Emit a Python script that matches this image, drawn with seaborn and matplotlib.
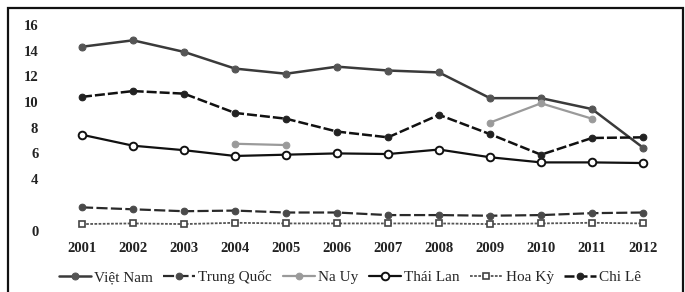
import numpy as np
import pandas as pd
import matplotlib
matplotlib.use("Agg")
import matplotlib.pyplot as plt
import seaborn as sns
from matplotlib.patches import Rectangle

years = [2001, 2002, 2003, 2004, 2005, 2006, 2007, 2008, 2009, 2010, 2011, 2012]

viet_nam = [14.3, 14.8, 13.9, 12.6, 12.2, 12.75, 12.45, 12.3, 10.3, 10.3, 9.45, 6.45]
trung_quoc = [1.8, 1.65, 1.5, 1.55, 1.4, 1.4, 1.2, 1.2, 1.15, 1.2, 1.35, 1.4]
# only parts of this series are readable in the scan
na_uy = [np.nan, np.nan, np.nan, 6.75, 6.65, np.nan, np.nan, np.nan, 8.4, 9.9, 8.7, np.nan]
thai_lan = [7.45, 6.6, 6.25, 5.8, 5.9, 6.0, 5.95, 6.3, 5.7, 5.3, 5.3, 5.25]
hoa_ky = [0.5, 0.55, 0.5, 0.6, 0.55, 0.55, 0.55, 0.55, 0.5, 0.55, 0.6, 0.55]
chi_le = [10.4, 10.85, 10.65, 9.15, 8.7, 7.7, 7.25, 9.0, 7.5, 5.9, 7.2, 7.25]

names = ["Việt Nam", "Trung Quốc", "Na Uy", "Thái Lan", "Hoa Kỳ", "Chi Lê"]
yticks = [0, 4, 6, 8, 10, 12, 14, 16]

sns.set_style("white")
plt.rcParams['font.family'] = ['Liberation Serif', 'DejaVu Serif']

fig = plt.figure(figsize=(6.85, 2.92), dpi=100)
ax = fig.add_axes([48/685, 1-235/292, (675-48)/685, (235-15)/292])

styles = {
    "Việt Nam": dict(color="#3a3a3a", marker="o", markersize=5, markerfacecolor="#555555",
                     markeredgecolor="#555555", linestyle="-", linewidth=1.8),
    "Trung Quốc": dict(color="#2a2a2a", marker="o", markersize=4.8, markerfacecolor="#4a4a4a",
                       markeredgecolor="#4a4a4a", linestyle=(0, (5, 1.5)), linewidth=1.6),
    "Na Uy": dict(color="#9a9a9a", marker="o", markersize=4.8, markerfacecolor="#9a9a9a",
                  markeredgecolor="#9a9a9a", linestyle="-", linewidth=1.6),
    "Thái Lan": dict(color="#111111", marker="o", markersize=5.5, markerfacecolor="white",
                     markeredgecolor="#111111", markeredgewidth=1.4, linestyle="-", linewidth=1.6),
    "Hoa Kỳ": dict(color="#555555", marker="s", markersize=3.8, markerfacecolor="white",
                   markeredgecolor="#444444", markeredgewidth=1.2, linestyle=(0, (1.5, 0.8)), linewidth=1.3),
    "Chi Lê": dict(color="#111111", marker="o", markersize=4.8, markerfacecolor="#222222",
                   markeredgecolor="#222222", linestyle=(0, (4, 1.2)), linewidth=1.8),
}

series = [viet_nam, trung_quoc, na_uy, thai_lan, hoa_ky, chi_le]
handles = []
for name, vals in zip(names, series):
    df = pd.DataFrame({"year": years, "value": vals})
    # split on gaps so missing years are not joined
    df["seg"] = df["value"].isna().cumsum()
    df = df.dropna()
    first = True
    for seg, part in df.groupby("seg"):
        sns.lineplot(data=part, x="year", y="value", ax=ax,
                     label=name if first else "_nolegend_", legend=False, **styles[name])
        first = False
    handles.append(ax.lines[-1])

ax.set_xlim(2001 - 34/51, 2012 + 32/51)
ax.set_ylim((230.5 - 235) / 12.85, (230.5 - 15) / 12.85)
ax.set_xticks(years)
ax.set_yticks(yticks)
ax.set_xlabel("")
ax.set_ylabel("")
for s in ax.spines.values():
    s.set_visible(False)
ax.tick_params(length=0, labelsize=10.5, colors="#222222")
ax.tick_params(axis="x", pad=5)
ax.tick_params(axis="y", pad=7)
for lbl in ax.get_xticklabels() + ax.get_yticklabels():
    lbl.set_fontweight("bold")

fig.legend(handles, names, loc="center", bbox_to_anchor=(350/685, 1-277/292), ncol=6,
           frameon=False, fontsize=11, handlelength=2.1, handletextpad=0.2, columnspacing=0.7)

frame = Rectangle((8/685, -0.05), (683-8)/685, 1.05 - 8/292, transform=fig.transFigure,
                  fill=False, edgecolor="#111111", linewidth=1.6, clip_on=False)
fig.patches.append(frame)

fig.savefig("out.png", dpi=100)
